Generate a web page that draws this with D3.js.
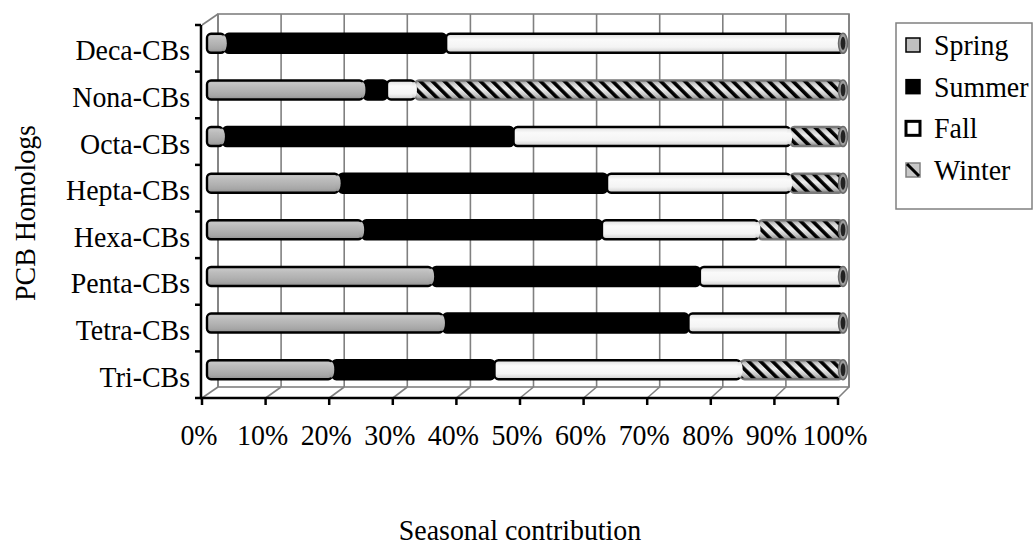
<!DOCTYPE html>
<html><head><meta charset="utf-8">
<script src="https://cdn.jsdelivr.net/npm/d3@7"></script>
<style>
body{margin:0;background:#fff}
text{font-family:"Liberation Serif","Times New Roman",serif;fill:#000}
</style>
</head><body>
<svg id="chart" width="1034" height="547"></svg>
<script>
// Seasonal share (%) of each PCB homolog group
const categories = ["Deca-CBs","Nona-CBs","Octa-CBs","Hepta-CBs","Hexa-CBs","Penta-CBs","Tetra-CBs","Tri-CBs"];
const spring = [2.8, 24.6, 2.5, 20.7, 24.4, 35.4, 37.1, 19.7];
const summer = [34.8, 3.7, 45.7, 42.2, 37.7, 42.1, 38.6, 25.5];
const fall   = [62.4, 4.4, 43.5, 28.8, 24.6, 22.5, 24.3, 38.7];
const winter = [0.0, 67.3, 8.3, 8.3, 13.3, 0.0, 0.0, 16.1];
const seriesNames = ["Spring","Summer","Fall","Winter"];
const xTickValues = [0,10,20,30,40,50,60,70,80,90,100];

const rows = categories.map((c,i)=>({cat:c, Spring:spring[i], Summer:summer[i], Fall:fall[i], Winter:winter[i]}));
const stacked = d3.stack().keys(seriesNames)(rows);

const svg = d3.select("#chart");
const defs = svg.append("defs");

// text in a slightly condensed serif face
const FS = 30, SX = 0.93;
function label(g, txt, x, y, anchor, rotate){
  return g.append("text")
    .attr("transform", `translate(${x},${y})` + (rotate ? ` rotate(${rotate})` : "") + ` scale(${SX},1)`)
    .attr("text-anchor", anchor).attr("font-size", FS).text(txt);
}

// cylinder shading
function vGrad(id, stops){
  const g = defs.append("linearGradient").attr("id",id).attr("x1",0).attr("y1",0).attr("x2",0).attr("y2",1);
  stops.forEach(s=>g.append("stop").attr("offset",s[0]).attr("stop-color",s[1]));
}
vGrad("gSpring",[[0,"#a4a4a4"],[0.12,"#c6c6c6"],[0.3,"#bcbcbc"],[0.55,"#b2b2b2"],[0.8,"#a6a6a6"],[1,"#909090"]]);
vGrad("gSummer",[[0,"#000"],[1,"#000"]]);
vGrad("gFall",[[0,"#dcdcdc"],[0.15,"#ececec"],[0.3,"#fafafa"],[0.7,"#f4f4f4"],[0.85,"#e2e2e2"],[1,"#c8c8c8"]]);
vGrad("gWinter",[[0,"#9a9a9a"],[0.2,"#d0d0d0"],[0.45,"#eeeeee"],[0.75,"#c8c8c8"],[1,"#8a8a8a"]]);
const hatch = defs.append("pattern").attr("id","hatch").attr("patternUnits","userSpaceOnUse")
  .attr("width",8.5).attr("height",8.5).attr("patternTransform","rotate(-45)");
hatch.append("rect").attr("x",0).attr("y",0).attr("width",3.6).attr("height",8.5).attr("fill","#000");

const fills = {Spring:"url(#gSpring)", Summer:"url(#gSummer)", Fall:"url(#gFall)", Winter:"url(#gWinter)"};
const strokes = {Spring:"#000", Summer:"#000", Fall:"#000", Winter:"#7a7a7a"};

// 3D frame: front plane and receding back wall
const x = d3.scaleLinear().domain([0,100]).range([202,838]);
const xBack = d3.scaleLinear().domain([0,100]).range([218,849]);
const xBar = d3.scaleLinear().domain([0,100]).range([207,843]);
const y = d3.scaleBand().domain(categories).range([25,398]);
const backTop = 14, backBottom = 387;

const frame = svg.append("g").attr("stroke","#808080").attr("stroke-width",1.6).attr("fill","none");
frame.append("rect").attr("x",xBack(0)).attr("y",backTop).attr("width",xBack(100)-xBack(0)).attr("height",backBottom-backTop).attr("fill","#fff");
frame.selectAll(".grid").data(xTickValues).join("line")
  .attr("x1",d=>xBack(d)).attr("x2",d=>xBack(d)).attr("y1",backTop).attr("y2",backBottom);
frame.selectAll(".floor").data(xTickValues).join("line")
  .attr("x1",d=>x(d)).attr("y1",398).attr("x2",d=>xBack(d)).attr("y2",backBottom);
frame.append("line").attr("x1",x(0)).attr("y1",25).attr("x2",xBack(0)).attr("y2",backTop);

// bars: each segment is a short cylinder
const barH = 19;
const yc = c => y(c) + y.bandwidth()/2 - 5;
const barsG = svg.append("g");
const segs = [];
stacked.forEach(s=>s.forEach(d=>segs.push({key:s.key, cat:d.data.cat, x0:d[0], x1:d[1]})));

barsG.selectAll("rect.body").data(segs.filter(d=>d.x1>d.x0)).join("rect")
  .attr("class","body")
  .attr("x",d=>xBar(d.x0)).attr("y",d=>yc(d.cat)-barH/2)
  .attr("width",d=>xBar(d.x1)-xBar(d.x0)).attr("height",barH)
  .attr("rx",4).attr("ry",4)
  .attr("fill",d=>fills[d.key]).attr("stroke",d=>strokes[d.key]).attr("stroke-width",2.4);
barsG.selectAll("rect.hatch").data(segs.filter(d=>d.key==="Winter" && d.x1>d.x0)).join("rect")
  .attr("class","hatch")
  .attr("x",d=>xBar(d.x0)+1).attr("y",d=>yc(d.cat)-barH/2+1)
  .attr("width",d=>xBar(d.x1)-xBar(d.x0)-2).attr("height",barH-2)
  .attr("fill","url(#hatch)");
// end caps, drawn over the start of the following segment
barsG.selectAll("ellipse.cap").data(segs.filter(d=>d.key!=="Summer" && d.key!=="Winter" && d.x1>d.x0 && d.x1<100)).join("ellipse")
  .attr("class","cap")
  .attr("cx",d=>xBar(d.x1)-1).attr("cy",d=>yc(d.cat))
  .attr("rx",3).attr("ry",barH/2-1.5)
  .attr("fill",d=>fills[d.key]).attr("stroke","none");
barsG.selectAll("ellipse.end").data(segs.filter(d=>d.key==="Winter")).join("ellipse")
  .attr("class","end")
  .attr("cx",d=>xBar(d.x1)).attr("cy",d=>yc(d.cat))
  .attr("rx",4.5).attr("ry",barH/2+0.5)
  .attr("fill","#9c9c9c").attr("stroke","#6a6a6a").attr("stroke-width",1.5);
barsG.selectAll("ellipse.endh").data(segs.filter(d=>d.key==="Winter")).join("ellipse")
  .attr("class","endh")
  .attr("cx",d=>xBar(d.x1)).attr("cy",d=>yc(d.cat))
  .attr("rx",2.4).attr("ry",barH/2-3)
  .attr("fill","#222");

// axes
const axes = svg.append("g").attr("stroke","#000").attr("stroke-width",2.5);
axes.append("line").attr("x1",201).attr("x2",201).attr("y1",25).attr("y2",399);
axes.append("line").attr("x1",200).attr("x2",x(100)).attr("y1",398).attr("y2",398);
const bounds = categories.map(c=>y(c)).concat([y.range()[1]]);
axes.selectAll(".yt").data(bounds).join("line")
  .attr("x1",195).attr("x2",201).attr("y1",d=>d).attr("y2",d=>d);
axes.selectAll(".xt").data(xTickValues).join("line")
  .attr("x1",d=>x(d)).attr("x2",d=>x(d)).attr("y1",398).attr("y2",405);

const catG = svg.append("g");
categories.forEach(c=>label(catG, c, 190, y(c)+y.bandwidth()/2+12, "end"));

const tickG = svg.append("g");
xTickValues.forEach(t=>label(tickG, t+"%", x(t)-3, 445, "middle"));

label(svg, "Seasonal contribution", 520, 540, "middle");
label(svg, "PCB Homologs", 35, 213, "middle", -90);

// legend
const lg = svg.append("g");
lg.append("rect").attr("x",896).attr("y",23).attr("width",136).attr("height",186)
  .attr("fill","#fff").attr("stroke","#808080").attr("stroke-width",1.5);
const legY = d3.scalePoint().domain(seriesNames).range([45,170]);
const mk = {Spring:{f:"#c0c0c0",s:"#000",w:1.5}, Summer:{f:"#000",s:"#000",w:1.5}, Fall:{f:"#fff",s:"#000",w:3}, Winter:{f:"#c8c8c8",s:"#808080",w:1.5}};
seriesNames.forEach(n=>{
  const g = lg.append("g").attr("transform",`translate(0,${legY(n)})`);
  g.append("rect").attr("x",906).attr("y",-7).attr("width",14).attr("height",14)
    .attr("fill",mk[n].f).attr("stroke",mk[n].s).attr("stroke-width",mk[n].w);
  if(n==="Winter") g.append("line").attr("x1",907).attr("y1",-6).attr("x2",919).attr("y2",6)
    .attr("stroke","#000").attr("stroke-width",3);
  label(g, n, 934, 10, "start");
});
</script>
</body></html>
